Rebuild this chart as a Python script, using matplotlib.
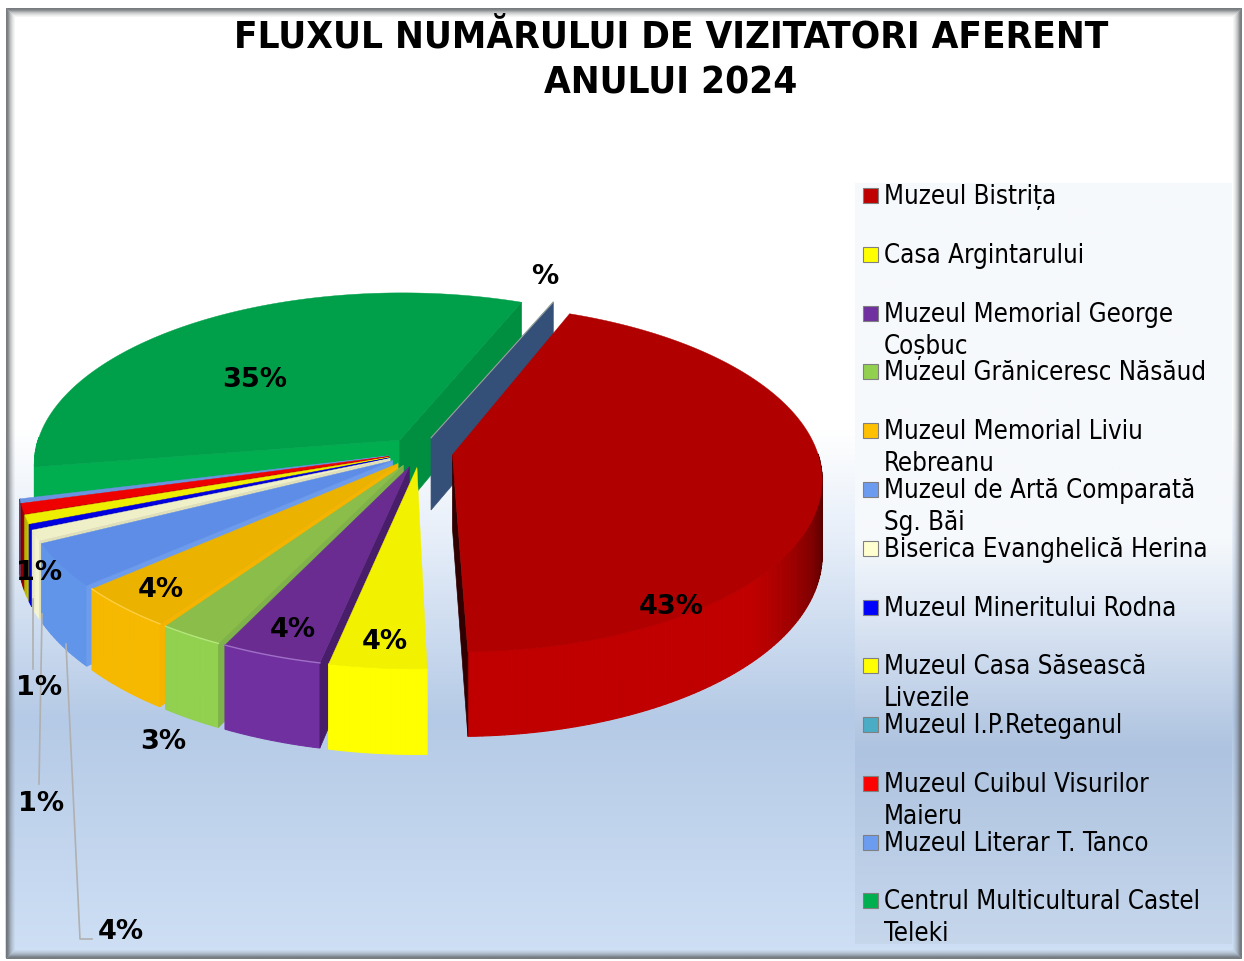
"""Exploded 3D-look pie of 2024 visitor shares, drawn on a pixel-sized axes."""
import matplotlib

matplotlib.use("Agg")
import matplotlib.pyplot as plt  # noqa: E402
import numpy as np  # noqa: E402
from matplotlib.colors import to_rgb  # noqa: E402
from matplotlib.patches import Rectangle  # noqa: E402

TITLE = ["FLUXUL NUMĂRULUI DE VIZITATORI AFERENT", "ANULUI 2024"]

# one row per slice, clockwise from the first slice angle
names = [
    ["Muzeul Bistrița"],
    ["Casa Argintarului"],
    ["Muzeul Memorial George", "Coșbuc"],
    ["Muzeul Grăniceresc Năsăud"],
    ["Muzeul Memorial Liviu", "Rebreanu"],
    ["Muzeul de Artă Comparată", "Sg. Băi"],
    ["Biserica Evanghelică Herina"],
    ["Muzeul Mineritului Rodna"],
    ["Muzeul Casa Săsească", "Livezile"],
    ["Muzeul I.P.Reteganul"],
    ["Muzeul Cuibul Visurilor", "Maieru"],
    ["Muzeul Literar T. Tanco"],
    ["Centrul Multicultural Castel", "Teleki"],
]
shares = [43.55, 3.7, 3.85, 2.45, 3.92, 4.02, 1.0, 0.45, 0.8, 0.0, 0.95, 0.35, 34.96]
top_colors = ["#b00000", "#f2f200", "#6a2c91", "#8abd4a", "#ecb200", "#5e8de8", "#efefc8",
              "#0000e0", "#eeee00", "#31849b", "#ee0000", "#6c93e0", "#00a04a"]
wall_colors = ["#c00000", "#ffff00", "#7030a0", "#92d050", "#f7b900", "#6095ea", "#f5f5d2",
               "#0000ff", "#ffff00", "#4bacc6", "#ff0000", "#6c93e0", "#00b050"]
start_cut_colors = ["#300000", "#d8d800", "#481d6a", "#7fb24a", "#f5b400", "#6e9cec", "#e0e0b8",
                    "#0000a0", "#d8d800", "#31849b", "#a00000", "#6c93e0", "#00ae50"]
end_cut_colors = ["#300000", "#d8d800", "#481d6a", "#7fb24a", "#f5b400", "#6e9cec", "#e0e0b8",
                  "#0000a0", "#d8d800", "#31849b", "#a00000", "#6c93e0", "#008f40"]
rim_colors = [None, None, "#a070c8", "#b4e67c", "#ffcf40", None, None,
              None, None, None, None, None, None]
legend_colors = ["#c00000", "#ffff00", "#7030a0", "#92d050", "#ffc000", "#6c9cf0", "#ffffd0",
                 "#0000ff", "#ffff00", "#4bacc6", "#ff0000", "#6c9cf0", "#00b050"]
legend_y = [196, 255, 314, 372, 431, 490, 549, 608, 666, 725, 784, 843, 901]

labels = ["43%", "35%", "4%", "4%", "4%", "3%", "1%", "1%", "1%", "4%", "%"]
label_x = [671, 255, 385, 293, 161, 163, 39, 39, 41, 121, 545]
label_y = [607, 380, 642, 630, 590, 742, 573, 688, 804, 932, 277]

leaders = [([33, 33], [600, 670]), ([42, 39], [615, 785]), ([66, 80, 92], [645, 940, 940])]

bg_stops_y = [8, 430, 540, 720, 959]
bg_stops_c = ["#ffffff", "#ffffff", "#e6eef9", "#b5cae6", "#cfe0f5"]
panel_stops_y = [184, 540, 610, 750, 945]
panel_stops_c = ["#f6f9fc", "#f6f9fc", "#dfe8f5", "#aec3e0", "#c6d7ec"]
bevel_alpha = [0.85, 0.8, 0.7, 0.55, 0.4, 0.3, 0.2, 0.12, 0.06]

CX, CY = 420, 453
RX, H, K = 365, 170, 0.134
EXPLODE = 0.09
DEPTH = 73
START = 21.8
STEP = 1.0
GREEN_TRIM = 5  # the big slice starts a little past the thin ones


def project(u, v, drop=0.0):
    s = 1 / (1 - K * v)
    return CX + RX * u * s, CY + H * v * s + DEPTH * drop * s


def gradient(ax, ys, colors, extent):
    rows = np.arange(ys[0], ys[-1] + 1)
    rgb = np.array([to_rgb(c) for c in colors])
    img = np.stack([np.interp(rows, ys, rgb[:, i]) for i in range(3)], axis=1)[:, None, :]
    ax.imshow(img, extent=extent, aspect="auto", zorder=0, interpolation="bilinear")


def wall_shade(deg):
    right = 0.22 + 0.78 * np.clip((deg - 92) / 40, 0, 1) ** 0.8
    left = np.clip(1 - 0.55 * (deg - 245) / 10, 0.45, 1.0) if deg < 259 else 1.0
    return right * left


def draw_slice(ax, i, a0, a1):
    mid = np.radians((a0 + a1) / 2)
    ou, ov = EXPLODE * np.sin(mid), -EXPLODE * np.cos(mid)
    th = np.radians(np.linspace(a0, a1, max(2, int((a1 - a0) / STEP) + 2)))
    u = ou + np.sin(th)
    v = ov - np.cos(th)
    # outer wall, only the part that faces the viewer
    base = np.array(to_rgb(wall_colors[i]))
    for k in range(len(th) - 1):
        if np.cos(th[k]) > 0 and np.cos(th[k + 1]) > 0:
            continue
        xs, ys = zip(project(u[k], v[k]), project(u[k + 1], v[k + 1]),
                     project(u[k + 1], v[k + 1], 1), project(u[k], v[k], 1))
        ax.fill(xs, ys, color=base * wall_shade(np.degrees(th[k])), lw=0.8, zorder=2)
    # cut faces along the radii, when turned to the viewer
    if np.sin(th[0]) < 0:
        xs, ys = zip(project(ou, ov), project(u[0], v[0]), project(u[0], v[0], 1), project(ou, ov, 1))
        ax.fill(xs, ys, color=start_cut_colors[i], lw=0.5, zorder=2)
    if np.sin(th[-1]) > 0:
        xs, ys = zip(project(ou, ov), project(u[-1], v[-1]), project(u[-1], v[-1], 1), project(ou, ov, 1))
        ax.fill(xs, ys, color=end_cut_colors[i], lw=0.5, zorder=2)
    xs, ys = project(np.r_[ou, u], np.r_[ov, v])
    ax.fill(xs, ys, color=top_colors[i], lw=0.3, zorder=2)
    if rim_colors[i]:
        xs, ys = project(u, v)
        ax.plot(xs, ys, color=rim_colors[i], lw=1.0, zorder=2)


fig = plt.figure(figsize=(12.44, 9.62), dpi=100)
ax = fig.add_axes([0, 0, 1, 1])
plt.rcParams["font.family"] = "DejaVu Sans"

gradient(ax, bg_stops_y, bg_stops_c, (5, 1241, 959, 8))
gradient(ax, panel_stops_y, panel_stops_c, (855, 1232, 945, 184))

# frame bevel, dark outside fading inward
for i, a in enumerate(bevel_alpha):
    ax.add_patch(Rectangle((5.5 + i, 8.5 + i), 1235 - 2 * i, 950 - 2 * i, fill=False, ec="#606468",
                           alpha=a, lw=0.72, zorder=5))

angles = START + np.cumsum(np.r_[0, shares]) * 3.6

draw_slice(ax, 12, angles[12] + GREEN_TRIM, angles[13])
# empty last slice: only its flat face shows
tip = (EXPLODE * 0.34, -EXPLODE * 0.94)
edge = (0.414, -1.0)
xs, ys = zip(project(*tip), project(*edge), project(*edge, 1), project(*tip, 1))
ax.fill(xs, ys, color="#355078", lw=0.5, zorder=2)
ax.plot(xs[:2], ys[:2], color="#9aa49c", lw=0.8, zorder=2)
for i in range(11, 0, -1):
    if shares[i] > 0:
        draw_slice(ax, i, angles[i], angles[i + 1])
draw_slice(ax, 0, angles[0], angles[1])

for xs, ys in leaders:
    ax.plot(xs, ys, color="#b0b0b0", lw=1.2, zorder=3)
for s, x, y in zip(labels, label_x, label_y):
    ax.text(x, y, s, ha="center", va="center", fontsize=19.5, fontweight="bold", color="black", zorder=6)

for y, s in zip([38, 84], TITLE):
    ax.text(671, y, s, ha="center", va="center", fontsize=27.7, fontweight="bold",
            fontstretch="condensed", color="black", zorder=6)

for lines, c, y in zip(names, legend_colors, legend_y):
    ax.add_patch(Rectangle((863, y - 7), 15, 15, fc=c, ec="#808080", lw=0.8, zorder=4))
    for j, s in enumerate(lines):
        ax.text(884, y + 1.5 + j * 31.5, s, ha="left", va="center", fontsize=18.5,
                fontstretch="condensed", color="black", zorder=6)

ax.set_xlim(0, 1244)
ax.set_ylim(962, 0)
ax.axis("off")
fig.savefig("out.png", dpi=100, facecolor="white")
